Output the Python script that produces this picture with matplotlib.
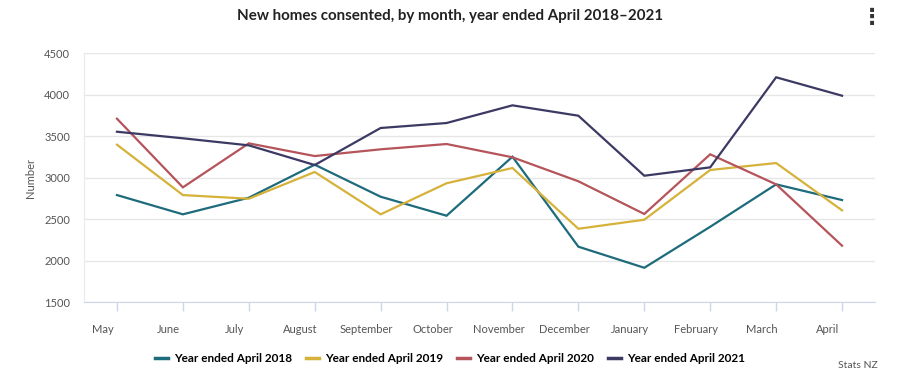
import matplotlib
matplotlib.use("Agg")
import matplotlib.pyplot as plt
import matplotlib.transforms as mtransforms
from matplotlib.lines import Line2D

plt.rcParams['font.family'] = ['Lato', 'DejaVu Sans']

months = ["May", "June", "July", "August", "September", "October",
          "November", "December", "January", "February", "March", "April"]
series_names = ["Year ended April 2018", "Year ended April 2019",
                "Year ended April 2020", "Year ended April 2021"]
y2018 = [2792, 2560, 2760, 3158, 2772, 2543, 3254, 2170, 1916, 2410, 2921, 2732]
y2019 = [3399, 2792, 2748, 3070, 2560, 2934, 3118, 2386, 2495, 3094, 3178, 2608]
y2020 = [3712, 2885, 3415, 3262, 3343, 3407, 3247, 2958, 2564, 3283, 2921, 2182]
y2021 = [3555, 3476, 3391, 3154, 3600, 3660, 3873, 3748, 3025, 3126, 4211, 3989]
colors = ["#1d6b7b", "#d6b23a", "#b5545a", "#3c3a63"]
yticks = [1500, 2000, 2500, 3000, 3500, 4000, 4500]

fig = plt.figure(figsize=(9, 3.89), dpi=100)
ax = fig.add_axes([84/900, 1-302.3/389, (875-84)/900, (302.3-53.3)/389])

x = list(range(len(months)))
for vals, c, name in zip([y2018, y2019, y2020, y2021], colors, series_names):
    ax.plot(x, vals, color=c, lw=1.6, label=name, solid_joinstyle='miter')

ax.set_xlim(-0.5, len(months) - 0.5)
ax.set_ylim(1500, 4500)
ax.set_yticks(yticks)
ax.set_yticklabels([str(t) for t in yticks], fontsize=8, color="#555555")
ax.tick_params(axis='y', length=0, pad=10)
ax.grid(axis='y', color="#e6e6e6", lw=1)
ax.set_axisbelow(True)

ax.set_xticks(x)
ax.set_xticklabels(months, fontsize=8, color="#555555")
ax.tick_params(axis='x', length=6.5, color="#ccd6eb", width=1, pad=9)
# labels sit a little left of their ticks, as in the original
offset = mtransforms.ScaledTranslation(-14/100, 0, fig.dpi_scale_trans)
for lbl in ax.get_xticklabels():
    lbl.set_transform(lbl.get_transform() + offset)

for s in ["top", "right"]:
    ax.spines[s].set_visible(False)
ax.spines["left"].set_color("#e6eaf2")
ax.spines["bottom"].set_color("#ccd6eb")

ax.set_ylabel("Number", fontsize=8, color="#555555", labelpad=6)

fig.text(0.5, 1-16/389, "New homes consented, by month, year ended April 2018\u20132021",
         ha='center', va='center', fontsize=10.9, fontweight='bold', color="#222222")
fig.text(872/900, 1-18/389, "\u22ee", ha='center', va='center', fontsize=16,
         fontweight='bold', color="#333333", family=['DejaVu Sans'])

handles = [Line2D([0], [0], color=c, lw=2.5) for c in colors]
fig.legend(handles, series_names, loc='center', bbox_to_anchor=(0.5, 1-359/389),
           ncol=4, frameon=False, handlelength=1.1,
           handletextpad=0.5, columnspacing=1.2,
           prop={'weight': 'bold', 'size': 8.5})
fig.text(858/900, 1-366/389, "Stats NZ", ha='center', va='center',
         fontsize=7.5, color="#555555")

fig.savefig("out.png", dpi=100, facecolor="white")
